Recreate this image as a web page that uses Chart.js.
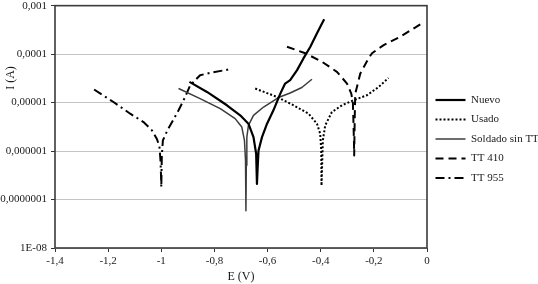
<!DOCTYPE html>
<html><head><meta charset="utf-8">
<script src="https://cdn.jsdelivr.net/npm/chart.js@4/dist/chart.umd.min.js"></script>
<style>html,body{margin:0;padding:0;background:#fff}#wrap{width:538px;height:284px}</style>
</head><body><div id="wrap"><canvas id="c" width="538" height="284"></canvas></div>
<script>
// ---- data (E in V, I in A) ----
const seriesNames = ["Nuevo", "Usado", "Soldado sin TT", "TT 410", "TT 955"];

const nuevoE = [-0.894, -0.828, -0.753, -0.703, -0.672, -0.653, -0.643, -0.640, -0.637, -0.634, -0.621, -0.602, -0.578, -0.552, -0.534, -0.515, -0.489, -0.465, -0.439, -0.414, -0.387];
const nuevoI = [2.67e-5, 1.66e-5, 8.8e-6, 5.46e-6, 3.67e-6, 1.94e-6, 8.8e-7, 2.1e-7, 5e-7, 1.03e-6, 1.94e-6, 3.67e-6, 6.93e-6, 1.53e-5, 2.47e-5, 2.9e-5, 4.67e-5, 8.15e-5, 1.42e-4, 2.69e-4, 5.23e-4];

const usadoE = [-0.6465, -0.565, -0.502, -0.446, -0.414, -0.402, -0.398, -0.397, -0.392, -0.383, -0.358, -0.320, -0.276, -0.226, -0.182, -0.145];
const usadoI = [1.95e-5, 1.31e-5, 8.8e-6, 5.9e-6, 3.67e-6, 2.28e-6, 1.03e-6, 1.94e-7, 1.66e-6, 3.39e-6, 6.38e-6, 8.8e-6, 1.12e-5, 1.42e-5, 2.1e-5, 3.23e-5];

const soldadoE = [-0.935, -0.854, -0.778, -0.722, -0.697, -0.687, -0.683, -0.6815, -0.680, -0.678, -0.672, -0.653, -0.615, -0.559, -0.515, -0.471, -0.433];
const soldadoI = [1.95e-5, 1.21e-5, 7.5e-6, 4.67e-6, 3.13e-6, 1.66e-6, 6.4e-7, 5.9e-8, 5.1e-7, 1.94e-6, 3.39e-6, 5.46e-6, 8.1e-6, 1.27e-5, 1.58e-5, 2.05e-5, 3.03e-5];

const tt410E = [-0.527, -0.458, -0.395, -0.339, -0.301, -0.285, -0.279, -0.277, -0.275, -0.274, -0.272, -0.270, -0.251, -0.220, -0.207, -0.182, -0.163, -0.138, -0.1005, -0.019];
const tt410I = [1.42e-4, 1.04e-4, 6.94e-5, 4.31e-5, 2.47e-5, 1.53e-5, 1.03e-5, 4.3e-6, 1.66e-6, 8.1e-7, 5e-6, 1.53e-5, 3.98e-5, 8.15e-5, 1.04e-4, 1.31e-4, 1.53e-4, 1.80e-4, 2.28e-4, 4.33e-4];

const tt955E = [-1.253, -1.180, -1.117, -1.067, -1.035, -1.017, -1.007, -1.003, -1.001, -1.000, -0.998, -0.994, -0.977, -0.935, -0.910, -0.891, -0.854, -0.816, -0.747];
const tt955I = [1.86e-5, 1.03e-5, 5.9e-6, 3.96e-6, 2.67e-6, 1.8e-6, 1.25e-6, 6.4e-7, 3.1e-7, 1.79e-7, 8e-7, 1.66e-6, 2.67e-6, 6.93e-6, 1.31e-5, 2.28e-5, 3.67e-5, 4.1e-5, 4.82e-5];

const xTickValues = [-1.4, -1.2, -1.0, -0.8, -0.6, -0.4, -0.2, 0];
const xTickLabels = ["-1,4", "-1,2", "-1", "-0,8", "-0,6", "-0,4", "-0,2", "0"];
const yTickValues = [1e-8, 1e-7, 1e-6, 1e-5, 1e-4, 1e-3];
const yTickLabels = ["1E-08", "0,0000001", "0,000001", "0,00001", "0,0001", "0,001"];
const xTitle = "E (V)";
const yTitle = "I (A)";

// ---- build ----
const pts = (E, I) => E.map((e, i) => ({x: e, y: I[i]}));
const FONT = "'Liberation Serif', 'Times New Roman', serif";
const TXT = '#1a1a1a';

function ds(label, E, I, color, width, dash) {
  return {label, data: pts(E, I), borderColor: color, backgroundColor: color,
    borderWidth: width, borderDash: dash, showLine: true, pointRadius: 0,
    tension: 0, fill: false, borderCapStyle: 'butt', borderJoinStyle: 'round'};
}

const datasets = [
  ds(seriesNames[0], nuevoE, nuevoI, '#000000', 2.2, []),
  ds(seriesNames[1], usadoE, usadoI, '#000000', 2, [2, 2]),
  ds(seriesNames[2], soldadoE, soldadoI, '#3c3c3c', 1.5, []),
  ds(seriesNames[3], tt410E, tt410I, '#000000', 2, [8, 5]),
  ds(seriesNames[4], tt955E, tt955I, '#000000', 2, [9, 4, 2, 4]),
];

const framePlugin = {
  id: 'frame',
  afterLayout(chart) {
    const lg = chart.legend;
    if (lg) { lg.top -= 3; lg.bottom -= 3; }
  },
  afterDraw(chart) {
    const {ctx, chartArea: a} = chart;
    ctx.save();
    ctx.strokeStyle = '#3a3a3a';
    ctx.lineWidth = 1.6;
    ctx.strokeRect(a.left, a.top, a.right - a.left, a.bottom - a.top);
    // y title
    ctx.fillStyle = TXT;
    ctx.font = "12px " + FONT;
    ctx.textAlign = 'center';
    ctx.textBaseline = 'middle';
    ctx.translate(11, 78);
    ctx.rotate(-Math.PI / 2);
    ctx.fillText(yTitle, 0, 0);
    ctx.restore();
  }
};

new Chart(document.getElementById('c'), {
  type: 'scatter',
  data: {datasets},
  plugins: [framePlugin],
  options: {
    responsive: false,
    animation: false,
    devicePixelRatio: 1,
    layout: {padding: {top: 0, right: 0, bottom: 0, left: 0}},
    plugins: {
      tooltip: {enabled: false},
      legend: {
        position: 'right',
        maxWidth: 111,
        labels: {
          usePointStyle: true, pointStyle: 'line', pointStyleWidth: 30,
          font: {family: FONT, size: 11}, color: TXT, padding: 8.5,
          generateLabels: chart => Chart.defaults.plugins.legend.labels.generateLabels(chart).map(it => {
            const d = chart.data.datasets[it.datasetIndex];
            return {...it, lineDash: d.borderDash, lineWidth: d.borderWidth, strokeStyle: d.borderColor, lineCap: 'butt'};
          })
        }
      }
    },
    scales: {
      x: {
        type: 'linear', min: -1.4, max: 0,
        afterBuildTicks: s => { s.ticks = xTickValues.map(v => ({value: v})); },
        afterFit: s => { s.height = 36; },
        ticks: {font: {family: FONT, size: 11}, color: TXT, padding: 3,
          callback: (v, i) => xTickLabels[i]},
        grid: {drawOnChartArea: false, drawTicks: true, tickLength: 4, tickColor: '#333'},
        border: {display: false},
        title: {display: true, text: xTitle, font: {family: FONT, size: 12}, color: TXT, padding: 0}
      },
      y: {
        type: 'logarithmic', min: 1e-8, max: 1e-3,
        afterBuildTicks: s => { s.ticks = yTickValues.map(v => ({value: v})); },
        afterFit: s => { s.width = 55; },
        ticks: {font: {family: FONT, size: 11, lineHeight: 0.3}, color: TXT, padding: 4,
          callback: (v, i) => yTickLabels[i]},
        grid: {color: '#c4c4c4', lineWidth: 1, drawTicks: true, tickLength: 4, tickColor: '#333'},
        border: {display: false}
      }
    }
  }
});
</script>
</body></html>
